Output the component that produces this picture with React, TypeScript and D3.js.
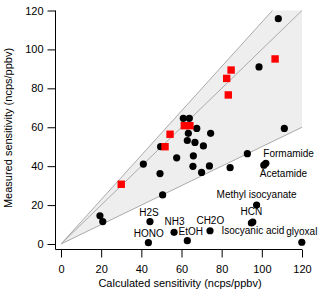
import React, { useEffect, useRef } from 'react';
import * as d3 from 'd3';

// measured vs calculated sensitivity, ncps/ppbv
const blackPoints: [number, number][] = [
  [108.2, 115.8], [98.6, 91], [111.2, 59.4], [74.5, 56.9], [60.9, 64.6],
  [63.9, 64.6], [67.6, 59.4], [63.4, 56.9], [62.9, 53.2], [66.7, 52.2],
  [70.9, 50.4], [65.9, 45.3], [57.6, 44.3], [65.7, 39.9], [73.9, 40.1],
  [70, 36.8], [84.2, 39.2], [49.3, 36.2], [41, 41.1], [49.6, 50],
  [50.6, 25.2], [92.8, 46.4], [19.4, 14.5], [20.8, 11.5],
];

const redPoints: [number, number][] = [
  [30, 30.7], [51.8, 50], [54.3, 56.4], [61.4, 60.8], [64.2, 60.8],
  [82.5, 85.1], [84.7, 89.4], [83.3, 76.6], [106.6, 95.1],
];

const labelNames = ['H2S', 'HONO', 'NH3', 'EtOH', 'CH2O', 'Isocyanic acid', 'HCN',
  'Methyl isocyanate', 'Formamide', 'Acetamide', 'glyoxal'];
const labelX = [44.3, 43.5, 56.3, 62.9, 74.2, 94.8, 95.5, 97.4, 102, 101, 119.9];
const labelY = [11.5, 0.7, 6, 1.7, 6.8, 10.8, 11.3, 20, 41.5, 40.5, 0.9];

// label placement relative to its point: [dx, dy, anchor]
const labelPlace: Record<string, [number, number, string]> = {
  'H2S': [-1, -6, 'middle'],
  'HONO': [0.5, -5.6, 'middle'],
  'NH3': [0.5, -7, 'middle'],
  'EtOH': [3.5, -5.7, 'middle'],
  'CH2O': [0.3, -6.7, 'middle'],
  'Isocyanic acid': [1.5, 11, 'middle'],
  'HCN': [-1.5, -6.8, 'middle'],
  'Methyl isocyanate': [0, -6.7, 'middle'],
  'Formamide': [-2.5, -6.5, 'start'],
  'Acetamide': [-4, 12, 'start'],
  'glyoxal': [0, -7, 'middle'],
};

const ticks = [0, 20, 40, 60, 80, 100, 120];
const upperSlope = 1.14;
const midSlope = 1.0;
const lowerSlope = 0.5;

const font = '"Liberation Sans", Arial, sans-serif';

export default function App() {
  const xAxisRef = useRef<SVGGElement>(null);
  const yAxisRef = useRef<SVGGElement>(null);

  const x = d3.scaleLinear().domain([0, 120]).range([61, 302]);
  const y = d3.scaleLinear().domain([0, 120]).range([244, 10.5]);

  const axisX = 55.5, axisY = 249.5;

  useEffect(() => {
    const gx = d3.select(xAxisRef.current);
    gx.call(d3.axisBottom(x).tickValues(ticks).tickSize(8).tickSizeOuter(0).tickPadding(7.5) as any);
    gx.select('.domain').remove();
    gx.selectAll('text').attr('font-size', 11).attr('font-family', font).attr('fill', '#000');
    gx.selectAll('line').attr('stroke', '#000');

    const gy = d3.select(yAxisRef.current);
    gy.call(d3.axisLeft(y).tickValues(ticks).tickSize(8).tickSizeOuter(0).tickPadding(4) as any);
    gy.select('.domain').remove();
    gy.selectAll('text').attr('font-size', 11).attr('font-family', font).attr('fill', '#000');
    gy.selectAll('line').attr('stroke', '#000');
  }, []);

  const xTop = 120 / upperSlope;
  const wedge = d3.line<[number, number]>().x(d => x(d[0])).y(d => y(d[1]))([
    [0, 0], [xTop, 120], [120, 120], [120, 120 * lowerSlope],
  ]);

  return (
    <svg width={320} height={290} style={{ position: 'absolute', left: 0, top: 0 }}>
      <rect width={320} height={290} fill="#fff" />
      <path d={wedge || ''} fill="#eeeeee" />
      <line x1={x(0)} y1={y(0)} x2={x(xTop)} y2={y(120)} stroke="#aaa" strokeWidth={1} />
      <line x1={x(0)} y1={y(0)} x2={x(120)} y2={y(120 * midSlope)} stroke="#aaa" strokeWidth={1} />
      <line x1={x(0)} y1={y(0)} x2={x(120)} y2={y(120 * lowerSlope)} stroke="#aaa" strokeWidth={1} />

      {blackPoints.map((d, i) =>
        <circle key={'b' + i} cx={x(d[0])} cy={y(d[1])} r={3.6} fill="#000" />
      )}
      {labelNames.map((n, i) =>
        <circle key={'l' + i} cx={x(labelX[i])} cy={y(labelY[i])} r={3.6} fill="#000" />
      )}
      {redPoints.map((d, i) =>
        <rect key={'r' + i} x={x(d[0]) - 3.7} y={y(d[1]) - 3.7} width={7.4} height={7.4} fill="#ff0000" />
      )}

      {labelNames.map((n, i) => {
        const [dx, dy, anchor] = labelPlace[n];
        return <text key={'t' + i} x={x(labelX[i]) + dx} y={y(labelY[i]) + dy}
                 textAnchor={anchor} fontSize={10} fontFamily={font}>{n}</text>;
      })}

      <line x1={axisX} y1={y(120)} x2={axisX} y2={axisY} stroke="#000" strokeWidth={1} />
      <line x1={axisX} y1={axisY} x2={x(120)} y2={axisY} stroke="#000" strokeWidth={1} />
      <g ref={xAxisRef} transform={`translate(0,${axisY})`} />
      <g ref={yAxisRef} transform={`translate(${axisX},0)`} />

      <text x={180} y={287} textAnchor="middle" fontSize={11} fontFamily={font}>
        Calculated sensitivity (ncps/ppbv)
      </text>
      <text transform="translate(11.5,128) rotate(-90)" textAnchor="middle" fontSize={11} fontFamily={font}>
        Measured sensitivity (ncps/ppbv)
      </text>
    </svg>
  );
}
